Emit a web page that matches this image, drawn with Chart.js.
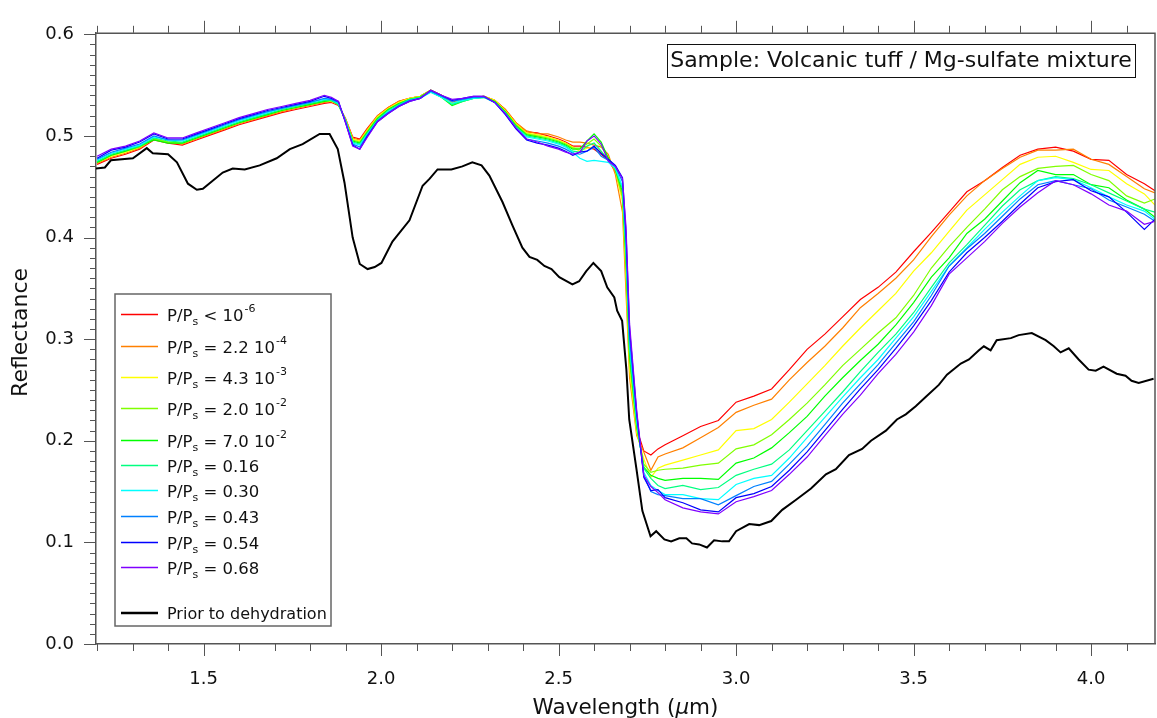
<!DOCTYPE html>
<html>
<head>
<meta charset="utf-8">
<script src="https://cdn.jsdelivr.net/npm/chart.js@4.4.1/dist/chart.umd.min.js"></script>
<style>
  body { margin: 0; background: #fff; }
  #wrap { width: 1157px; height: 718px; position: relative; }
</style>
</head>
<body>
<div id="wrap"><canvas id="spectra"></canvas></div>
<script>
// Reflectance spectra of volcanic tuff / Mg-sulfate mixture at several P/Ps

const wavelength = [
  1.20, 1.24, 1.28, 1.32, 1.36, 1.40, 1.44, 1.48, 1.52, 1.56, 1.60, 1.64, 1.68, 1.72, 1.76, 1.80, 1.84,
  1.86, 1.88, 1.90, 1.92, 1.94, 1.96,
  1.99, 2.02, 2.05, 2.08, 2.11, 2.14, 2.17, 2.20, 2.23, 2.26, 2.29, 2.32, 2.35, 2.38, 2.41, 2.44, 2.47,
  2.50, 2.52, 2.54, 2.56, 2.58, 2.60, 2.62, 2.64, 2.66, 2.68,
  2.69, 2.70, 2.72, 2.74, 2.76, 2.78, 2.80,
  2.85, 2.90, 2.95,
  3.00, 3.05, 3.10, 3.15, 3.20, 3.25, 3.30, 3.35, 3.40, 3.45, 3.50, 3.55,
  3.60, 3.65, 3.70, 3.75, 3.80, 3.85, 3.90, 3.95, 4.00, 4.05, 4.10, 4.15, 4.18
];

const reflLt1e6 = [
  0.472, 0.478, 0.482, 0.487, 0.496, 0.493, 0.491, 0.496, 0.501, 0.506, 0.511, 0.515, 0.519, 0.523, 0.526, 0.529, 0.532,
  0.533, 0.530, 0.517, 0.499, 0.497, 0.507,
  0.520, 0.528, 0.534, 0.537, 0.539, 0.545, 0.540, 0.533, 0.536, 0.538, 0.539, 0.535, 0.526, 0.513, 0.504, 0.503, 0.500,
  0.497, 0.494, 0.490, 0.490, 0.489, 0.487, 0.482, 0.476, 0.465, 0.440,
  0.370, 0.285, 0.212, 0.190, 0.186, 0.192, 0.196,
  0.205, 0.214, 0.220,
  0.238, 0.244, 0.251, 0.270, 0.290, 0.305, 0.322, 0.339, 0.351, 0.366, 0.386, 0.405,
  0.425, 0.445, 0.456, 0.469, 0.481, 0.487, 0.489, 0.485, 0.477, 0.476, 0.462, 0.453, 0.446
];
const refl2e4 = [
  0.473, 0.479, 0.483, 0.488, 0.497, 0.494, 0.492, 0.497, 0.502, 0.507, 0.512, 0.516, 0.520, 0.524, 0.527, 0.530, 0.533,
  0.534, 0.531, 0.517, 0.498, 0.496, 0.506,
  0.520, 0.528, 0.534, 0.537, 0.539, 0.545, 0.540, 0.532, 0.536, 0.538, 0.539, 0.535, 0.526, 0.513, 0.505, 0.502, 0.502,
  0.499, 0.496, 0.494, 0.494, 0.493, 0.491, 0.489, 0.482, 0.462, 0.425,
  0.345, 0.262, 0.205, 0.189, 0.171, 0.184, 0.187,
  0.193, 0.203, 0.213,
  0.228, 0.235, 0.241, 0.260, 0.277, 0.293, 0.311, 0.331, 0.345, 0.360, 0.378, 0.401,
  0.422, 0.441, 0.456, 0.468, 0.479, 0.486, 0.486, 0.487, 0.477, 0.472, 0.460, 0.448, 0.444
];
const refl4e3 = [
  0.474, 0.480, 0.484, 0.489, 0.497, 0.494, 0.493, 0.498, 0.503, 0.508, 0.513, 0.517, 0.521, 0.525, 0.528, 0.531, 0.534,
  0.534, 0.531, 0.516, 0.497, 0.495, 0.505,
  0.519, 0.527, 0.533, 0.537, 0.539, 0.545, 0.540, 0.532, 0.536, 0.538, 0.539, 0.535, 0.525, 0.512, 0.503, 0.501, 0.499,
  0.496, 0.493, 0.489, 0.485, 0.488, 0.489, 0.484, 0.478, 0.466, 0.435,
  0.360, 0.270, 0.208, 0.182, 0.164, 0.173, 0.176,
  0.181, 0.186, 0.191,
  0.210, 0.212, 0.221, 0.238, 0.256, 0.274, 0.293, 0.311, 0.328, 0.345, 0.367, 0.385,
  0.406, 0.427, 0.442, 0.457, 0.472, 0.479, 0.480, 0.474, 0.467, 0.466, 0.453, 0.443, 0.432
];
const refl2e2 = [
  0.474, 0.481, 0.485, 0.489, 0.497, 0.494, 0.493, 0.498, 0.503, 0.508, 0.513, 0.517, 0.521, 0.525, 0.528, 0.531, 0.534,
  0.535, 0.531, 0.516, 0.496, 0.494, 0.504,
  0.518, 0.526, 0.532, 0.536, 0.539, 0.545, 0.539, 0.531, 0.535, 0.538, 0.539, 0.534, 0.524, 0.511, 0.502, 0.500, 0.498,
  0.495, 0.492, 0.488, 0.488, 0.492, 0.497, 0.490, 0.479, 0.466, 0.440,
  0.370, 0.278, 0.212, 0.177, 0.169, 0.171, 0.172,
  0.173, 0.176, 0.178,
  0.192, 0.196, 0.206, 0.221, 0.237, 0.255, 0.274, 0.290, 0.306, 0.321, 0.343, 0.370,
  0.391, 0.410, 0.428, 0.447, 0.460, 0.468, 0.470, 0.471, 0.462, 0.456, 0.441, 0.434, 0.438
];
const refl7e2 = [
  0.474, 0.481, 0.485, 0.490, 0.496, 0.493, 0.493, 0.498, 0.503, 0.508, 0.513, 0.517, 0.521, 0.525, 0.528, 0.531, 0.534,
  0.535, 0.531, 0.515, 0.495, 0.493, 0.503,
  0.517, 0.526, 0.532, 0.536, 0.538, 0.544, 0.538, 0.530, 0.534, 0.537, 0.538, 0.534, 0.524, 0.510, 0.501, 0.499, 0.497,
  0.494, 0.491, 0.487, 0.487, 0.495, 0.502, 0.494, 0.478, 0.467, 0.445,
  0.380, 0.285, 0.215, 0.174, 0.166, 0.163, 0.161,
  0.163, 0.163, 0.162,
  0.178, 0.183, 0.193, 0.208, 0.224, 0.244, 0.262, 0.279, 0.295, 0.314, 0.336, 0.361,
  0.380, 0.404, 0.418, 0.436, 0.454, 0.466, 0.462, 0.462, 0.452, 0.449, 0.437, 0.428, 0.420
];
const refl016 = [
  0.475, 0.482, 0.486, 0.490, 0.498, 0.495, 0.494, 0.499, 0.504, 0.509, 0.514, 0.518, 0.522, 0.526, 0.529, 0.532, 0.535,
  0.535, 0.531, 0.515, 0.494, 0.492, 0.502,
  0.516, 0.525, 0.531, 0.536, 0.538, 0.543, 0.538, 0.531, 0.534, 0.537, 0.538, 0.533, 0.523, 0.509, 0.500, 0.498, 0.496,
  0.493, 0.490, 0.485, 0.484, 0.490, 0.493, 0.485, 0.476, 0.468, 0.448,
  0.385, 0.290, 0.218, 0.173, 0.163, 0.156, 0.153,
  0.156, 0.152, 0.154,
  0.166, 0.172, 0.177, 0.191, 0.210, 0.229, 0.248, 0.268, 0.287, 0.305, 0.326, 0.351,
  0.375, 0.393, 0.412, 0.431, 0.447, 0.456, 0.460, 0.458, 0.452, 0.444, 0.436, 0.428, 0.425
];
const refl030 = [
  0.476, 0.483, 0.487, 0.491, 0.499, 0.496, 0.495, 0.500, 0.505, 0.510, 0.515, 0.519, 0.523, 0.527, 0.530, 0.533, 0.536,
  0.536, 0.532, 0.515, 0.493, 0.491, 0.501,
  0.515, 0.524, 0.530, 0.535, 0.537, 0.543, 0.538, 0.532, 0.535, 0.537, 0.538, 0.533, 0.522, 0.508, 0.499, 0.497, 0.495,
  0.492, 0.489, 0.484, 0.478, 0.475, 0.476, 0.475, 0.474, 0.468, 0.450,
  0.390, 0.295, 0.220, 0.169, 0.156, 0.151, 0.147,
  0.147, 0.143, 0.142,
  0.157, 0.163, 0.166, 0.183, 0.203, 0.223, 0.243, 0.262, 0.280, 0.301, 0.322, 0.347,
  0.372, 0.390, 0.408, 0.425, 0.441, 0.456, 0.459, 0.457, 0.449, 0.440, 0.432, 0.426, 0.418
];
const refl043 = [
  0.477, 0.484, 0.488, 0.492, 0.500, 0.496, 0.496, 0.501, 0.506, 0.511, 0.516, 0.520, 0.524, 0.527, 0.530, 0.533, 0.537,
  0.536, 0.533, 0.514, 0.492, 0.489, 0.500,
  0.515, 0.523, 0.530, 0.535, 0.537, 0.544, 0.539, 0.534, 0.536, 0.538, 0.538, 0.533, 0.522, 0.508, 0.497, 0.495, 0.493,
  0.490, 0.487, 0.483, 0.482, 0.485, 0.489, 0.480, 0.476, 0.470, 0.455,
  0.395, 0.300, 0.224, 0.166, 0.150, 0.147, 0.146,
  0.143, 0.143, 0.137,
  0.146, 0.155, 0.160, 0.177, 0.195, 0.216, 0.237, 0.256, 0.275, 0.296, 0.317, 0.343,
  0.372, 0.389, 0.404, 0.421, 0.438, 0.452, 0.456, 0.452, 0.448, 0.437, 0.430, 0.423, 0.416
];
const refl054 = [
  0.478, 0.486, 0.489, 0.494, 0.502, 0.497, 0.497, 0.502, 0.507, 0.512, 0.517, 0.521, 0.525, 0.528, 0.531, 0.534, 0.539,
  0.537, 0.534, 0.513, 0.491, 0.487, 0.499,
  0.514, 0.522, 0.529, 0.534, 0.537, 0.545, 0.540, 0.535, 0.537, 0.539, 0.539, 0.533, 0.521, 0.507, 0.496, 0.493, 0.491,
  0.488, 0.485, 0.481, 0.484, 0.485, 0.490, 0.483, 0.477, 0.471, 0.459,
  0.405, 0.310, 0.228, 0.164, 0.151, 0.152, 0.144,
  0.139, 0.132, 0.130,
  0.144, 0.148, 0.155, 0.171, 0.189, 0.210, 0.231, 0.251, 0.270, 0.291, 0.313, 0.338,
  0.366, 0.385, 0.400, 0.416, 0.433, 0.449, 0.455, 0.457, 0.446, 0.440, 0.425, 0.408, 0.418
];
const refl068 = [
  0.480, 0.487, 0.490, 0.495, 0.503, 0.498, 0.498, 0.503, 0.508, 0.513, 0.518, 0.522, 0.526, 0.529, 0.532, 0.535, 0.540,
  0.538, 0.534, 0.513, 0.490, 0.487, 0.498,
  0.514, 0.522, 0.529, 0.534, 0.537, 0.545, 0.540, 0.536, 0.537, 0.539, 0.539, 0.533, 0.522, 0.508, 0.497, 0.494, 0.490,
  0.487, 0.484, 0.482, 0.484, 0.495, 0.500, 0.492, 0.475, 0.470, 0.458,
  0.410, 0.315, 0.230, 0.166, 0.155, 0.149, 0.142,
  0.134, 0.130, 0.128,
  0.140, 0.145, 0.151, 0.167, 0.184, 0.205, 0.226, 0.245, 0.266, 0.285, 0.307, 0.333,
  0.364, 0.380, 0.396, 0.414, 0.430, 0.444, 0.456, 0.452, 0.443, 0.432, 0.426, 0.413, 0.416
];

// the sample before dehydration was measured on its own grid
const wavelengthDry = [
  1.197, 1.222, 1.239, 1.301, 1.340, 1.357, 1.400, 1.425, 1.456, 1.481,
  1.498, 1.554, 1.582, 1.616, 1.658, 1.706, 1.743, 1.779, 1.827, 1.855,
  1.878, 1.897, 1.920, 1.940, 1.962, 1.982, 2.001, 2.032, 2.080, 2.117,
  2.137, 2.159, 2.198, 2.229, 2.257, 2.283, 2.305, 2.342, 2.370, 2.398,
  2.418, 2.440, 2.460, 2.480, 2.502, 2.539, 2.558, 2.578, 2.598, 2.620,
  2.637, 2.657, 2.665, 2.679, 2.691, 2.699, 2.719, 2.736, 2.759, 2.775,
  2.798, 2.817, 2.840, 2.860, 2.876, 2.896, 2.918, 2.938, 2.961, 2.980,
  3.000, 3.037, 3.065, 3.099, 3.130, 3.169, 3.211, 3.253, 3.281, 3.318,
  3.355, 3.380, 3.422, 3.453, 3.478, 3.506, 3.537, 3.571, 3.594, 3.633,
  3.656, 3.684, 3.698, 3.717, 3.734, 3.774, 3.796, 3.833, 3.872, 3.895,
  3.914, 3.937, 3.965, 3.993, 4.013, 4.035, 4.072, 4.097, 4.114, 4.134, 4.176
];
const reflDry = [
  0.468, 0.469, 0.476, 0.478, 0.488, 0.483, 0.482, 0.474, 0.453, 0.447,
  0.448, 0.464, 0.468, 0.467, 0.471, 0.478, 0.487, 0.492, 0.502, 0.502,
  0.487, 0.454, 0.400, 0.374, 0.369, 0.371, 0.375, 0.396, 0.417, 0.451,
  0.458, 0.467, 0.467, 0.470, 0.474, 0.471, 0.461, 0.435, 0.412, 0.390,
  0.381, 0.378, 0.372, 0.369, 0.361, 0.354, 0.357, 0.367, 0.375, 0.367,
  0.351, 0.341, 0.328, 0.318, 0.270, 0.221, 0.173, 0.131, 0.106, 0.111,
  0.103, 0.101, 0.104, 0.104, 0.099, 0.098, 0.095, 0.102, 0.101, 0.101,
  0.111, 0.118, 0.117, 0.121, 0.132, 0.142, 0.153, 0.167, 0.172, 0.186,
  0.192, 0.200, 0.210, 0.221, 0.226, 0.234, 0.244, 0.255, 0.265, 0.276,
  0.280, 0.289, 0.293, 0.289, 0.299, 0.301, 0.304, 0.306, 0.299, 0.293,
  0.287, 0.291, 0.280, 0.270, 0.269, 0.273, 0.266, 0.264, 0.259, 0.257, 0.261
];

const seriesValues = [reflLt1e6, refl2e4, refl4e3, refl2e2, refl7e2, refl016, refl030, refl043, refl054, refl068];
const seriesColors = ["#ff0000", "#ff8000", "#ffff00", "#80ff00", "#00ff00", "#00ff80", "#00ffff", "#0080ff", "#0000ff", "#8000ff"];
const legendRest = [" < 10", " = 2.2 10", " = 4.3 10", " = 2.0 10", " = 7.0 10", " = 0.16", " = 0.30", " = 0.43", " = 0.54", " = 0.68"];
const legendSup = ["-6", "-4", "-3", "-2", "-2", "", "", "", "", ""];

const xTickValues = [1.5, 2.0, 2.5, 3.0, 3.5, 4.0];
const yTickValues = [0.0, 0.1, 0.2, 0.3, 0.4, 0.5, 0.6];

const FONT = "'DejaVu Sans', 'Noto Sans', sans-serif";
const AXIS_COLOR = "#555";

const toPoints = (xs, ys) => xs.map((x, i) => ({ x, y: ys[i] }));

const datasets = seriesValues.map((vals, i) => ({
  label: "P/Ps" + legendRest[i] + legendSup[i],
  data: toPoints(wavelength, vals),
  borderColor: seriesColors[i],
  borderWidth: 1.2,
  order: 20 - i,
}));
datasets.push({
  label: "Prior to dehydration",
  data: toPoints(wavelengthDry, reflDry),
  borderColor: "#000",
  borderWidth: 2,
  order: 0,
});

// minor ticks, frame, axis titles, legend and sample box
const extrasPlugin = {
  id: "extras",
  afterDraw(chart) {
    const { ctx, chartArea: area, scales } = chart;
    const xs = scales.x;
    const ys = scales.y;

    ctx.save();
    ctx.strokeStyle = AXIS_COLOR;
    ctx.lineWidth = 1.5;
    ctx.beginPath();
    ctx.moveTo(area.left, area.top + 0.5);
    ctx.lineTo(area.right, area.top + 0.5);
    ctx.lineTo(area.right, area.bottom);
    ctx.stroke();

    ctx.lineWidth = 1;
    ctx.beginPath();
    for (let k = 0; k <= 60; k++) {
      const y = Math.round(ys.getPixelForValue(k / 100)) + 0.5;
      const len = k % 10 === 0 ? 12 : 6;
      ctx.moveTo(area.left - len, y);
      ctx.lineTo(area.left, y);
    }
    for (let k = 12; k <= 41; k++) {
      const x = Math.round(xs.getPixelForValue(k / 10)) + 0.5;
      const len = k % 5 === 0 ? 12 : 7;
      ctx.moveTo(x, area.bottom);
      ctx.lineTo(x, area.bottom + len);
      ctx.moveTo(x, area.top);
      ctx.lineTo(x, area.top - len);
    }
    ctx.stroke();

    // axis titles
    ctx.fillStyle = "#111";
    ctx.font = "22px " + FONT;
    ctx.textAlign = "center";
    ctx.textBaseline = "middle";
    ctx.save();
    ctx.translate(21, (area.top + area.bottom) / 2 - 6);
    ctx.rotate(-Math.PI / 2);
    ctx.fillText("Reflectance", 0, 0);
    ctx.restore();

    const parts = [["Wavelength (", "21.5px " + FONT], ["\u03bc", "italic 21.5px " + FONT], ["m)", "21.5px " + FONT]];
    let total = 0;
    parts.forEach(([t, f]) => { ctx.font = f; total += ctx.measureText(t).width; });
    let tx = (area.left + area.right) / 2 - total / 2;
    ctx.textAlign = "left";
    ctx.textBaseline = "alphabetic";
    parts.forEach(([t, f]) => {
      ctx.font = f;
      ctx.fillText(t, tx, 714);
      tx += ctx.measureText(t).width;
    });

    // sample box
    ctx.strokeStyle = "#111";
    ctx.lineWidth = 1;
    ctx.strokeRect(667.5, 44.5, 468, 33);
    ctx.font = "22px " + FONT;
    ctx.textAlign = "center";
    ctx.textBaseline = "middle";
    ctx.fillText("Sample: Volcanic tuff / Mg-sulfate mixture", 901, 61.5);

    // legend
    const rowY = [314, 346, 377, 408, 440, 465, 490, 516, 542, 567];
    ctx.fillStyle = "#fff";
    ctx.fillRect(115, 294, 216, 332);
    ctx.strokeStyle = "#666";
    ctx.lineWidth = 1.5;
    ctx.strokeRect(115, 294, 216, 332);
    ctx.textAlign = "left";
    ctx.textBaseline = "alphabetic";
    ctx.fillStyle = "#111";
    rowY.forEach((y, i) => {
      ctx.strokeStyle = seriesColors[i];
      ctx.lineWidth = 1.5;
      ctx.beginPath();
      ctx.moveTo(121, y + 0.5);
      ctx.lineTo(158, y + 0.5);
      ctx.stroke();
      const base = y + 7;
      let x = 167;
      ctx.font = "16.5px " + FONT;
      ctx.fillText("P/P", x, base);
      x += ctx.measureText("P/P").width;
      ctx.font = "11px " + FONT;
      ctx.fillText("s", x, base + 4);
      x += ctx.measureText("s").width;
      ctx.font = "16.5px " + FONT;
      ctx.fillText(legendRest[i], x, base);
      x += ctx.measureText(legendRest[i]).width;
      if (legendSup[i]) {
        ctx.font = "11px " + FONT;
        ctx.fillText(legendSup[i], x + 1, base - 9);
      }
    });
    ctx.strokeStyle = "#000";
    ctx.lineWidth = 2.5;
    ctx.beginPath();
    ctx.moveTo(121, 613);
    ctx.lineTo(158, 613);
    ctx.stroke();
    ctx.font = "16px " + FONT;
    ctx.fillText("Prior to dehydration", 167, 619);
    ctx.restore();
  },
};

const ctx = document.getElementById("spectra");

new Chart(ctx, {
  type: "line",
  data: { datasets },
  options: {
    responsive: true,
    maintainAspectRatio: false,
    animation: false,
    layout: { padding: { top: 25, right: 2, left: 0, bottom: 0 } },
    plugins: {
      legend: { display: false },
      tooltip: { enabled: false },
    },
    elements: {
      point: { radius: 0 },
      line: { tension: 0 },
    },
    scales: {
      x: {
        type: "linear",
        min: 1.197,
        max: 4.18,
        grid: { display: false, drawTicks: false },
        border: { color: AXIS_COLOR, width: 1.5 },
        afterBuildTicks: (scale) => {
          scale.ticks = xTickValues.map((v) => ({ value: v }));
        },
        afterFit: (scale) => {
          scale.height = 74;
        },
        ticks: {
          autoSkip: false,
          maxRotation: 0,
          padding: 25,
          color: "#111",
          font: { family: FONT, size: 18 },
          callback: (v) => Number(v).toFixed(1),
        },
      },
      y: {
        min: 0,
        max: 0.6015,
        grid: { display: false, drawTicks: false },
        border: { color: AXIS_COLOR, width: 1.5 },
        afterBuildTicks: (scale) => {
          scale.ticks = yTickValues.map((v) => ({ value: v }));
        },
        afterFit: (scale) => {
          scale.width = 96;
        },
        ticks: {
          autoSkip: false,
          padding: 22,
          color: "#111",
          font: { family: FONT, size: 18 },
          callback: (v) => Number(v).toFixed(1),
        },
      },
    },
  },
  plugins: [extrasPlugin],
});
</script>
</body>
</html>
